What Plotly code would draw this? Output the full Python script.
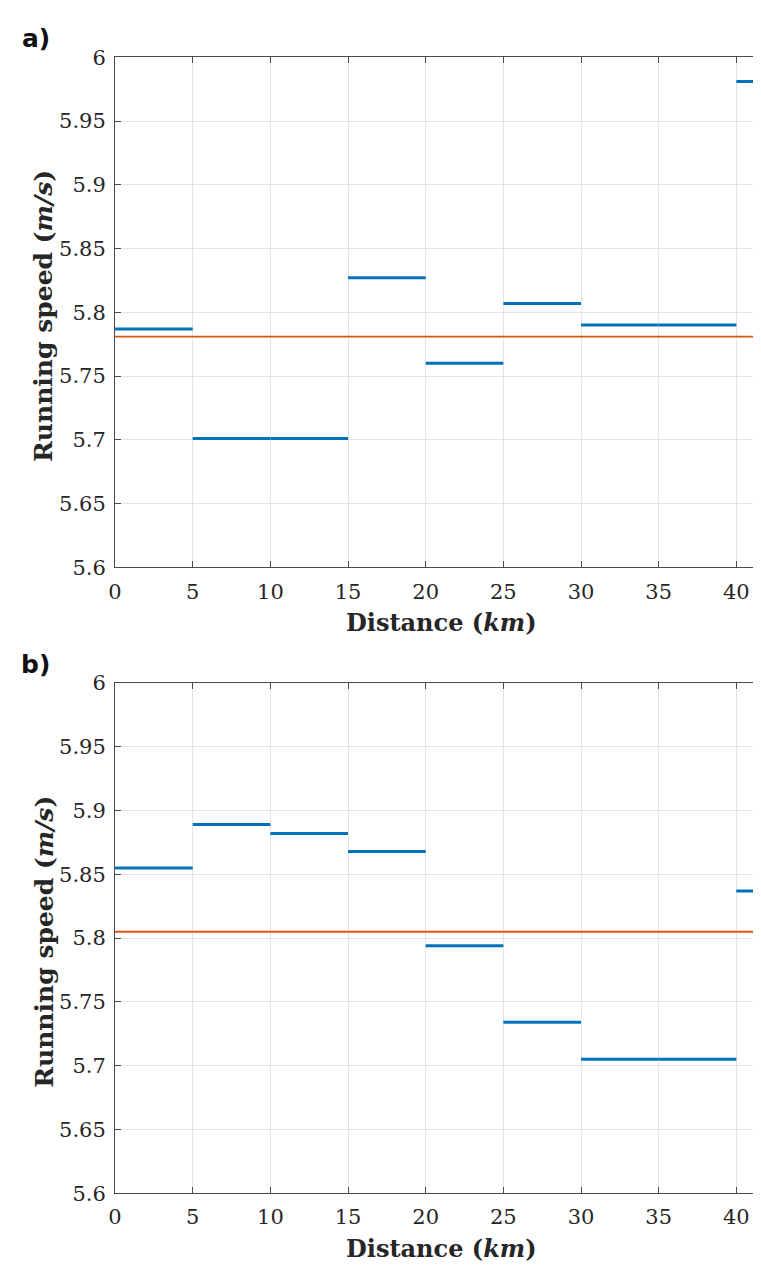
import plotly.graph_objects as go

# ---- data ----
split_start = [0, 5, 10, 15, 20, 25, 30, 35, 40]
split_end = [5, 10, 15, 20, 25, 30, 35, 40, 42.195]
speed_a = [5.787, 5.701, 5.701, 5.827, 5.760, 5.807, 5.790, 5.790, 5.981]
speed_b = [5.855, 5.889, 5.882, 5.868, 5.794, 5.734, 5.705, 5.705, 5.837]
mean_a = 5.781
mean_b = 5.805
x_ticks = [0, 5, 10, 15, 20, 25, 30, 35, 40]
x_ticklabels = ["0", "5", "10", "15", "20", "25", "30", "35", "40"]
y_ticks = [5.6, 5.65, 5.7, 5.75, 5.8, 5.85, 5.9, 5.95, 6.0]
y_ticklabels = ["5.6", "5.65", "5.7", "5.75", "5.8", "5.85", "5.9", "5.95", "6"]
panel_labels = ["a)", "b)"]

BLUE = "#0072BD"
ORANGE = "#D95319"
AXC = "#4a4a4a"
GRID = "#e4e4e4"
TICKFONT = dict(family="DejaVu Serif", size=21, color="#262626")
YTITLEFONT = dict(family="DejaVu Serif", size=25, color="#262626")
XTITLEFONT = dict(family="DejaVu Serif", size=24, color="#262626")

# page is 761x1272; the html body keeps its default 8px margin
PAGE_W, PAGE_H = 761, 1272
OFF = 8
W, H = PAGE_W - 2 * OFF, PAGE_H - 2 * OFF


def fx(px):
    return (px - OFF) / W


def fy(py):
    return 1 - (py - OFF) / H


X0 = 109
PX_PER_KM = 15.68
x_max = (PAGE_W - OFF - X0) / PX_PER_KM


def seg_xy(starts, ends, vals):
    xs, ys = [], []
    for s, e, v in zip(starts, ends, vals):
        xs += [s, e, None]
        ys += [v, v, None]
    return xs, ys


fig = go.Figure()
panels = [
    dict(vals=speed_a, mean=mean_a, xa="x", ya="y", top=46),
    dict(vals=speed_b, mean=mean_b, xa="x2", ya="y2", top=684),
]
annotations = []
for i, p in enumerate(panels):
    xs, ys = seg_xy(split_start, split_end, p["vals"])
    fig.add_trace(go.Scatter(x=xs, y=ys, mode="lines", xaxis=p["xa"], yaxis=p["ya"],
                             line=dict(color=BLUE, width=3), showlegend=False,
                             connectgaps=False, hoverinfo="skip"))
    fig.add_trace(go.Scatter(x=[0, split_end[-1]], y=[p["mean"], p["mean"]], mode="lines",
                             xaxis=p["xa"], yaxis=p["ya"],
                             line=dict(color=ORANGE, width=1.8), showlegend=False,
                             hoverinfo="skip"))
    top = p["top"]
    bottom = top + 520
    dom = [fy(bottom), fy(top)]
    ax_common = dict(showline=True, linecolor=AXC, linewidth=1, ticks="inside",
                     ticklen=6, tickcolor=AXC, tickwidth=1, showgrid=True,
                     gridcolor=GRID, gridwidth=1, zeroline=False, tickfont=TICKFONT)
    xkey = "xaxis" if i == 0 else "xaxis2"
    ykey = "yaxis" if i == 0 else "yaxis2"
    fig.update_layout(**{
        xkey: dict(domain=[fx(X0), 1], range=[0, x_max], tickvals=x_ticks,
                   ticktext=x_ticklabels, anchor=p["ya"], mirror="ticks",
                   ticklabelstandoff=5, **ax_common),
        ykey: dict(domain=dom, range=[5.6, 6.0], tickvals=y_ticks,
                   ticktext=y_ticklabels, anchor=p["xa"], mirror=False,
                   ticklabelstandoff=4, **ax_common),
    })
    annotations.append(dict(text="<b>Running speed (<i>m/s</i>)</b>", xref="paper", yref="paper",
                            x=fx(37), y=fy(top + 264), textangle=-90,
                            showarrow=False, font=YTITLEFONT, xanchor="center", yanchor="middle"))
    annotations.append(dict(text="<b>Distance (<i>km</i>)</b>", xref="paper", yref="paper",
                            x=fx(439), y=fy(top + 576), showarrow=False, font=XTITLEFONT,
                            xanchor="center", yanchor="middle"))
    annotations.append(dict(text="<b>" + panel_labels[i] + "</b>", xref="paper", yref="paper",
                            x=fx(29), y=fy(top - 19), showarrow=False,
                            font=dict(family="DejaVu Sans", size=25, color="#111111"),
                            xanchor="center", yanchor="middle"))

fig.update_layout(width=W, height=H, margin=dict(l=0, r=0, t=0, b=0),
                  paper_bgcolor="white", plot_bgcolor="white",
                  annotations=annotations, showlegend=False)

fig.write_html("out.html", include_plotlyjs=True, config={"displayModeBar": False})
